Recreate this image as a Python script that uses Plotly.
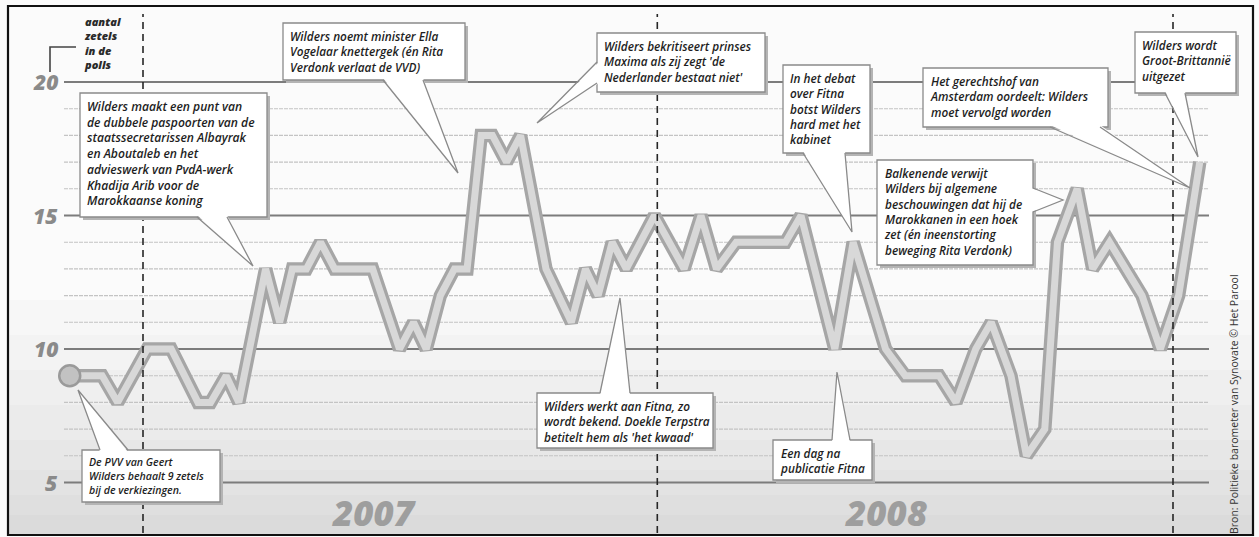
import datetime as dt
import plotly.graph_objects as go

# Synovate barometer: seats for Wilders' PVV in the polls
poll_dates = [
    "2006-11-10", "2006-12-03", "2006-12-14", "2007-01-04", "2007-01-21",
    "2007-02-09", "2007-02-18", "2007-03-01", "2007-03-10", "2007-03-29",
    "2007-04-08", "2007-04-17", "2007-04-27", "2007-05-07", "2007-05-17",
    "2007-06-13", "2007-07-02", "2007-07-12", "2007-07-21", "2007-07-31",
    "2007-08-10", "2007-08-19", "2007-08-29", "2007-09-06", "2007-09-16",
    "2007-09-26", "2007-10-14", "2007-11-01", "2007-11-11", "2007-11-20",
    "2007-11-30", "2007-12-10", "2007-12-30", "2008-01-20", "2008-02-01",
    "2008-02-12", "2008-02-26", "2008-04-01", "2008-04-12", "2008-05-06",
    "2008-05-19", "2008-06-11", "2008-06-25", "2008-07-19", "2008-07-31",
    "2008-08-14", "2008-08-25", "2008-09-08", "2008-09-19", "2008-10-02",
    "2008-10-11", "2008-10-25", "2008-11-05", "2008-11-17", "2008-12-10",
    "2008-12-23", "2009-01-05", "2009-01-20",
]
seats = [
    9, 9, 8, 10, 10, 8, 8, 9, 8, 13,
    11, 13, 13, 14, 13, 13, 10, 11, 10, 12,
    13, 13, 18, 18, 17, 18, 13, 11, 13, 12,
    14, 13, 15, 13, 15, 13, 14, 14, 15, 10,
    14, 10, 9, 9, 8, 10, 11, 9, 6, 7,
    14, 16, 13, 14, 12, 10, 12, 17,
]
y_ticks = [5, 10, 15, 20]
grid_levels = list(range(5, 21))
year_marks = ["2007-01-01", "2008-01-01", "2009-01-01"]
year_labels = ["2007", "2008"]
axis_title = ["aantal", "zetels", "in de", "polls"]
source = "Bron: Politieke barometer van Synovate © Het Parool"

W, H = 1259, 537

# pixel layout of the graphic
PX_2007, PX_2009 = 143, 1173
PX_Y20, PX_PER_SEAT = 82, 26.7
ppd = (PX_2009 - PX_2007) / 731.0
d2007 = dt.datetime(2007, 1, 1)
d2009 = dt.datetime(2009, 1, 1)
x_lo = d2007 - dt.timedelta(days=PX_2007 / ppd)
x_hi = d2009 + dt.timedelta(days=(W - PX_2009) / ppd)
y_lo = 20 - (H - PX_Y20) / PX_PER_SEAT
y_hi = 20 + PX_Y20 / PX_PER_SEAT


def px(x):
    return x / W


def py(y):
    return 1 - y / H


FONT = "Open Sans"
shapes = []
annotations = []

# darker paper towards the bottom
for top in [300, 335, 370, 405, 440, 470, 495, 515]:
    shapes.append(dict(type="rect", xref="paper", yref="paper", layer="below",
                       x0=px(9), x1=px(1252), y0=py(534), y1=py(top),
                       fillcolor="rgba(0,0,0,0.017)", line=dict(width=0)))

# horizontal grid
for v in grid_levels:
    major = v % 5 == 0
    shapes.append(dict(type="line", xref="paper", yref="y", layer="below",
                       x0=px(64), x1=px(1209), y0=v, y1=v,
                       line=dict(color="#7c7c7c" if major else "#c4c4c4",
                                 width=1.8 if major else 1.1,
                                 dash="solid" if major else "4px,1px")))

# dashed year boundaries
for d in year_marks:
    shapes.append(dict(type="line", xref="x", yref="paper", layer="above",
                       x0=d, x1=d, y0=py(533), y1=py(14),
                       line=dict(color="#262626", width=1.6, dash="7px,5px")))

# page frame
shapes.append(dict(type="rect", xref="paper", yref="paper", layer="above",
                   x0=px(8), x1=px(1253), y0=py(535), y1=py(6),
                   fillcolor="rgba(0,0,0,0)", line=dict(color="#111", width=2.2)))

# bracket next to the axis title
shapes.append(dict(type="path", xref="paper", yref="paper", layer="above",
                   path=f"M {px(76)} {py(47)} L {px(50)} {py(47)} L {px(50)} {py(72)}",
                   line=dict(color="#444", width=1.6)))

annotations.append(dict(xref="paper", yref="paper", x=px(82), y=py(12),
                        xanchor="left", yanchor="top", align="left", showarrow=False,
                        text="<br>".join(axis_title),
                        font=dict(family=FONT, size=11, color="#2a2a2a",
                                  weight=800, style="italic")))

for v in y_ticks:
    annotations.append(dict(xref="paper", yref="y", x=px(60), y=v, xanchor="right",
                            yanchor="middle", showarrow=False, text=str(v),
                            font=dict(family=FONT, size=21, color="#8a8a8a",
                                      weight=800, style="italic")))

for lab, cx in zip(year_labels, [374, 886]):
    annotations.append(dict(xref="paper", yref="paper", x=px(cx), y=py(512),
                            xanchor="center", yanchor="middle", showarrow=False,
                            text=lab, font=dict(family=FONT, size=35, color="#9e9e9e",
                                                weight=800, style="italic")))

annotations.append(dict(xref="paper", yref="paper", x=px(1234), y=py(404),
                        xanchor="center", yanchor="middle", showarrow=False,
                        textangle=-90, text=source,
                        font=dict(family=FONT, size=10.5, color="#333")))


def callout(box, base, tip, side, lines, size=11.8):
    x0, y0, x1, y1 = box
    shapes.append(dict(type="rect", xref="paper", yref="paper", layer="above",
                       x0=px(x0 + 3), x1=px(x1 + 3), y0=py(y1 + 3), y1=py(y0 + 3),
                       fillcolor="#b4b4b4", line=dict(width=0)))
    shapes.append(dict(type="rect", xref="paper", yref="paper", layer="above",
                       x0=px(x0), x1=px(x1), y0=py(y1), y1=py(y0),
                       fillcolor="#ffffff", line=dict(color="#8a8a8a", width=1.3)))
    (bx0, by0), (bx1, by1) = base
    tx, ty = tip
    dx, dy = {"bottom": (0, -2), "top": (0, 2), "left": (2, 0), "right": (-2, 0)}[side]
    shapes.append(dict(type="path", xref="paper", yref="paper", layer="above",
                       path=(f"M {px(bx0 + dx)} {py(by0 + dy)} L {px(tx)} {py(ty)} "
                             f"L {px(bx1 + dx)} {py(by1 + dy)} Z"),
                       fillcolor="#ffffff", line=dict(width=0)))
    shapes.append(dict(type="path", xref="paper", yref="paper", layer="above",
                       path=(f"M {px(bx0)} {py(by0)} L {px(tx)} {py(ty)} "
                             f"L {px(bx1)} {py(by1)}"),
                       line=dict(color="#8a8a8a", width=1.3)))
    annotations.append(dict(xref="paper", yref="paper", x=px(x0 + 5), y=py(y0 + 3),
                            xanchor="left", yanchor="top", align="left",
                            showarrow=False, text="<br>".join(lines),
                            font=dict(family=FONT, size=size, color="#1e1e1e",
                                      weight=600, style="italic")))


callout((80, 93, 267, 217), ((197, 217), (227, 217)), (253, 266), "bottom",
        ["Wilders maakt een punt van", "de dubbele paspoorten van de",
         "staatssecretarissen Albayrak", "en Aboutaleb en het",
         "advieswerk van PvdA-werk", "Khadija Arib voor de", "Marokkaanse koning"],
        size=12.1)
callout((283, 23, 465, 80), ((383, 80), (423, 80)), (458, 173), "bottom",
        ["Wilders noemt minister Ella", "Vogelaar knettergek (én Rita",
         "Verdonk verlaat de VVD)"])
callout((597, 33, 765, 92), ((597, 62), (597, 83)), (537, 123), "left",
        ["Wilders bekritiseert prinses", "Maxima als zij zegt 'de",
         "Nederlander bestaat niet'"])
callout((783, 65, 870, 153), ((803, 153), (845, 153)), (852, 232), "bottom",
        ["In het debat", "over Fitna", "botst Wilders", "hard met het", "kabinet"])
callout((923, 68, 1108, 127), ((1050, 127), (1100, 127)), (1190, 188), "bottom",
        ["Het gerechtshof van", "Amsterdam oordeelt: Wilders",
         "moet vervolgd worden"])
callout((1135, 32, 1236, 93), ((1165, 93), (1185, 93)), (1198, 157), "bottom",
        ["Wilders wordt", "Groot-Brittannië", "uitgezet"])
callout((877, 160, 1033, 265), ((1033, 188), (1033, 212)), (1063, 200), "right",
        ["Balkenende verwijt", "Wilders bij algemene",
         "beschouwingen dat hij de", "Marokkanen in een hoek",
         "zet (én ineenstorting", "beweging Rita Verdonk)"])
callout((537, 393, 713, 448), ((600, 393), (630, 393)), (620, 298), "top",
        ["Wilders werkt aan Fitna, zo", "wordt bekend. Doekle Terpstra",
         "betitelt hem als 'het kwaad'"])
callout((773, 440, 872, 480), ((832, 440), (850, 440)), (837, 372), "top",
        ["Een dag na", "publicatie Fitna"])
callout((82, 450, 220, 502), ((100, 450), (128, 450)), (78, 390), "top",
        ["De PVV van Geert", "Wilders behaalt 9 zetels", "bij de verkiezingen."],
        size=10.6)

fig = go.Figure()
fig.add_trace(go.Scatter(x=poll_dates, y=seats, mode="lines", hoverinfo="skip",
                         line=dict(color="#a6a6a6", width=13.5)))
fig.add_trace(go.Scatter(x=poll_dates, y=seats, mode="lines",
                         line=dict(color="#d8d8d8", width=7)))
fig.add_trace(go.Scatter(x=poll_dates[:1], y=seats[:1], mode="markers",
                         marker=dict(size=21, color="#c2c2c2",
                                     line=dict(color="#9a9a9a", width=2.5))))

fig.update_layout(
    width=W, height=H,
    margin=dict(l=0, r=0, t=0, b=0),
    paper_bgcolor="#fbfbfb", plot_bgcolor="rgba(0,0,0,0)",
    showlegend=False,
    xaxis=dict(type="date", range=[x_lo, x_hi], visible=False, fixedrange=True),
    yaxis=dict(range=[y_lo, y_hi], visible=False, fixedrange=True),
    shapes=shapes,
    annotations=annotations,
)

fig.write_html("out.html")
